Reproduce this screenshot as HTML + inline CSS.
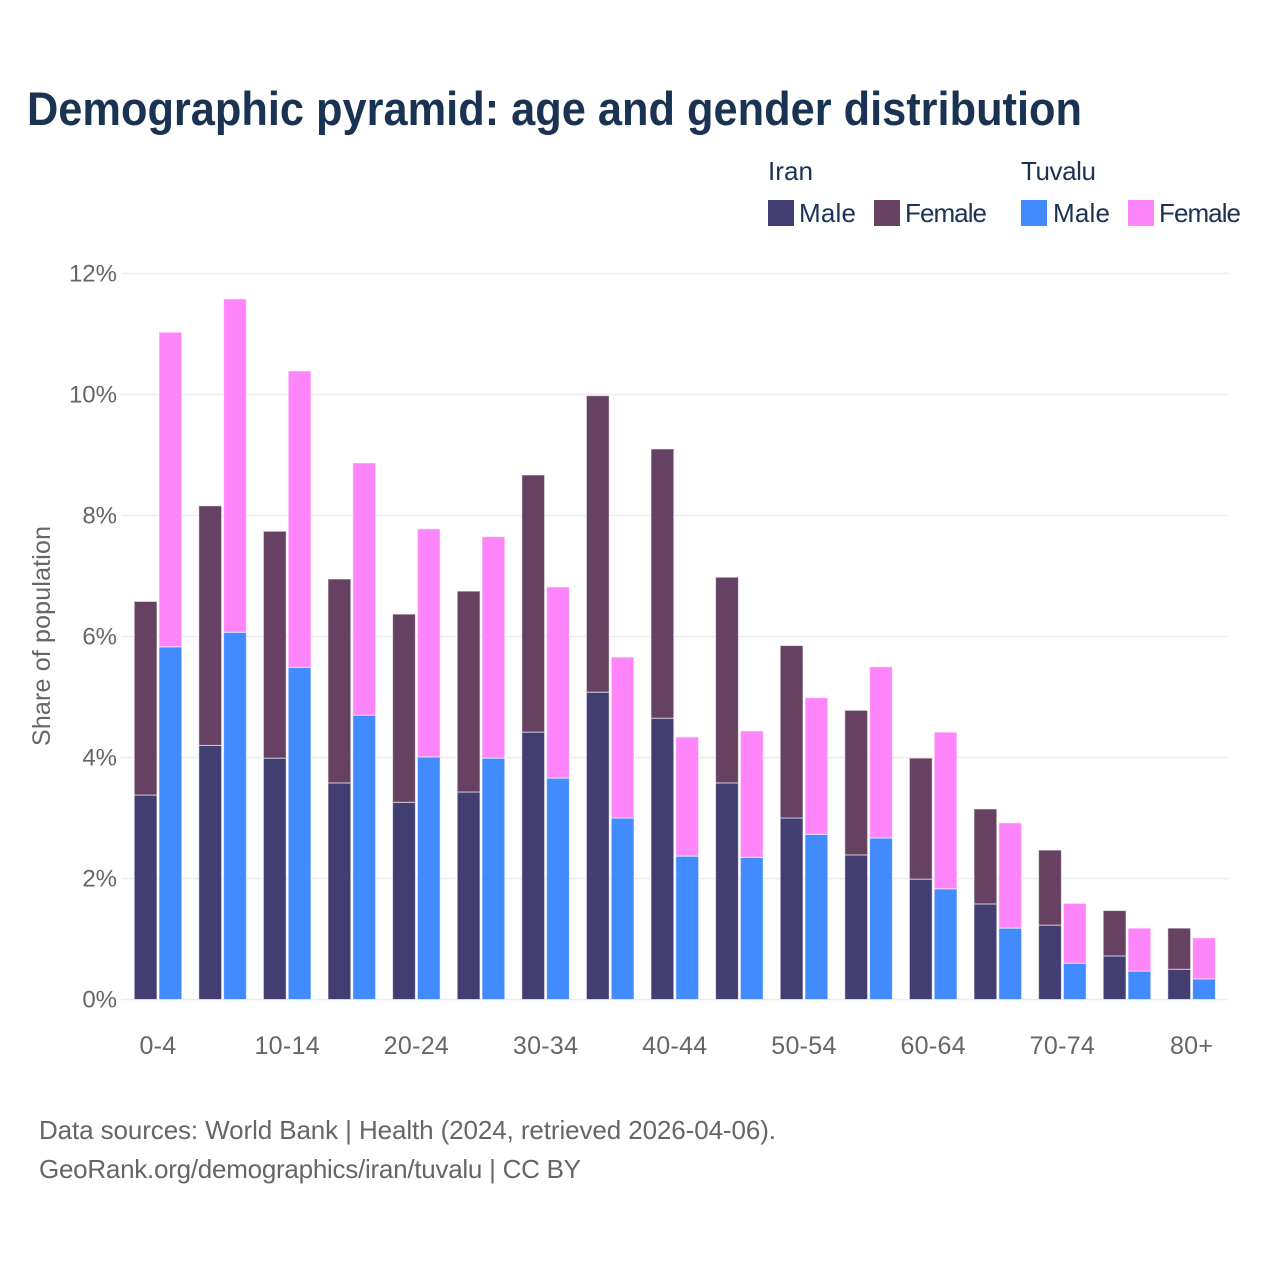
<!DOCTYPE html>
<html lang="en">
<head>
<meta charset="utf-8">
<title>Demographic pyramid: age and gender distribution</title>
<style>
html,body{margin:0;padding:0;background:#fff;width:1280px;height:1280px;overflow:hidden}
svg{display:block}
text{font-family:"Liberation Sans",sans-serif}
.ttl{font-weight:700;font-size:47px;fill:#1a3353}
.leg{font-size:26px;fill:#1a3353}
.tick{font-size:24px;fill:#666}
.xtick{font-size:25px;fill:#666}
.foot{font-size:26px;fill:#666}
</style>
</head>
<body>
<svg id="chart" width="1280" height="1280" viewBox="0 0 1280 1280" xmlns="http://www.w3.org/2000/svg">
  <text class="ttl" x="27" y="125" textLength="1055" lengthAdjust="spacingAndGlyphs">Demographic pyramid: age and gender distribution</text>

  <g>
    <text class="leg" x="768" y="180" textLength="45">Iran</text>
    <rect x="768" y="200" width="26" height="26" fill="#433e72"/>
    <text class="leg" x="799" y="222" textLength="57">Male</text>
    <rect x="874" y="200" width="26" height="26" fill="#664162"/>
    <text class="leg" x="905" y="222" textLength="82">Female</text>
    <text class="leg" x="1021" y="180" textLength="75">Tuvalu</text>
    <rect x="1021" y="200" width="26" height="26" fill="#428bff"/>
    <text class="leg" x="1053" y="222" textLength="57">Male</text>
    <rect x="1128" y="200" width="26" height="26" fill="#ff85fa"/>
    <text class="leg" x="1159" y="222" textLength="82">Female</text>
  </g>

  <g id="grid"></g>
  <g id="yticks"></g>
  <g id="xticks"></g>
  <g id="bars"></g>

  <text class="tick" transform="translate(50,746) rotate(-90)" x="0" y="0" textLength="220" style="font-size:25px">Share of population</text>

  <text class="foot" x="39" y="1139" textLength="737">Data sources: World Bank | Health (2024, retrieved 2026-04-06).</text>
  <text class="foot" x="39" y="1178" textLength="542">GeoRank.org/demographics/iran/tuvalu | CC BY</text>
</svg>

<script>
const categories = ["0-4","5-9","10-14","15-19","20-24","25-29","30-34","35-39","40-44","45-49","50-54","55-59","60-64","65-69","70-74","75-79","80+"];
const xTickLabels = ["0-4","","10-14","","20-24","","30-34","","40-44","","50-54","","60-64","","70-74","","80+"];
const yTicks = [0,2,4,6,8,10,12];
const iranMale = [3.38,4.20,3.99,3.58,3.26,3.43,4.42,5.08,4.65,3.58,3.00,2.39,1.99,1.58,1.23,0.72,0.50];
const iranFemale = [3.20,3.96,3.75,3.37,3.11,3.32,4.25,4.90,4.45,3.40,2.85,2.39,2.00,1.57,1.24,0.75,0.68];
const tuvaluMale = [5.83,6.07,5.49,4.70,4.01,3.99,3.66,3.00,2.37,2.35,2.73,2.67,1.83,1.18,0.60,0.47,0.34];
const tuvaluFemale = [5.20,5.51,4.90,4.17,3.77,3.66,3.16,2.66,1.97,2.09,2.26,2.83,2.59,1.74,0.99,0.71,0.68];

const NS = 'http://www.w3.org/2000/svg';
const plotLeft = 121, plotRight = 1228, y0 = 999.5, pxPerUnit = 60.5;
const firstCenter = 158, step = 64.6, barW = 22.8, barGap = 1;
const yScale = v => y0 - v * pxPerUnit;
const xScale = i => firstCenter + i * step;

function make(tag, parent, attrs) {
  const el = document.createElementNS(NS, tag);
  for (const k in attrs) el.setAttribute(k, attrs[k]);
  parent.appendChild(el);
  return el;
}

const gridG = document.getElementById('grid');
const yG = document.getElementById('yticks');
yTicks.forEach(t => {
  const line = make('line', gridG, {x1: plotLeft, x2: plotRight, y1: yScale(t), y2: yScale(t), stroke: '#ececf0', 'stroke-width': 1.4});
  
  
  const label = make('text', yG, {class: 'tick', x: 117, y: yScale(t) + 8, 'text-anchor': 'end'});
  label.textContent = t + '%';
  
  
});

const xG = document.getElementById('xticks');
xTickLabels.forEach((t, i) => {
  if (!t) return;
  const label = make('text', xG, {class: 'xtick', x: xScale(i), y: 1054, 'text-anchor': 'middle', 'letter-spacing': '0.3'});
  label.textContent = t;
  
  
});

const barsG = document.getElementById('bars');
function drawBar(x, base, val, fill, name) {
  const rect = make('rect', barsG, {
    x: x, y: yScale(base + val), width: barW, height: val * pxPerUnit,
    fill: fill, stroke: '#fff', 'stroke-opacity': 0.6, 'stroke-width': 1
  });
  
  
}
categories.forEach((c, i) => {
  const cx = xScale(i);
  const xA = cx - barGap - barW;
  const xB = cx + barGap;
  drawBar(xA, 0, iranMale[i], '#433e72', 'bar-iran-male-' + c);
  drawBar(xA, iranMale[i], iranFemale[i], '#664162', 'bar-iran-female-' + c);
  drawBar(xB, 0, tuvaluMale[i], '#428bff', 'bar-tuvalu-male-' + c);
  drawBar(xB, tuvaluMale[i], tuvaluFemale[i], '#ff85fa', 'bar-tuvalu-female-' + c);
});
</script>
</body>
</html>
